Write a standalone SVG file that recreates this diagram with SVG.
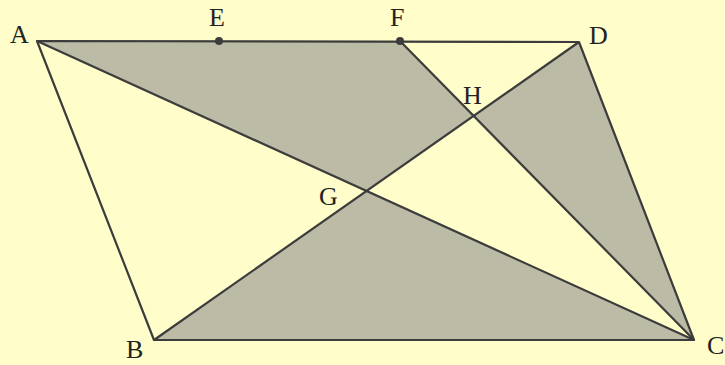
<svg xmlns="http://www.w3.org/2000/svg" width="725" height="365" viewBox="0 0 725 365">
<style>
.sh{fill:#bcbba5;stroke:none}
.ln{stroke:#3c3c3c;stroke-width:2.2;fill:none;stroke-linejoin:round}
.lb{font-family:"Liberation Serif",serif;font-size:26px;fill:#222}
.pt{fill:#3c3c3c}
</style>
<rect width="725" height="365" fill="#fffdc9"/>
<g id="shading">
<polygon class="sh" points="37,41 400,41 473.6,115.9 366.5,191"/>
<polygon class="sh" points="473.6,115.9 579,42 694,340"/>
<polygon class="sh" points="154,340 366.5,191 694,340"/>
</g>
<g id="connectors">
<polygon class="ln" points="37,41 579,42 694,340 154,340"/>
<line class="ln" x1="37" y1="41" x2="694" y2="340"/>
<line class="ln" x1="154" y1="340" x2="579" y2="42"/>
<line class="ln" x1="400" y1="41" x2="694" y2="340"/>
</g>
<g id="A"><text class="lb" x="10" y="43">A</text></g>
<g id="E"><circle class="pt" cx="219" cy="41" r="4"/><text class="lb" x="209" y="26">E</text></g>
<g id="F"><circle class="pt" cx="400" cy="41" r="4"/><text class="lb" x="390" y="26">F</text></g>
<g id="D"><text class="lb" x="589" y="44">D</text></g>
<g id="H"><text class="lb" x="463" y="104">H</text></g>
<g id="G"><text class="lb" x="319" y="205">G</text></g>
<g id="B"><text class="lb" x="126" y="358">B</text></g>
<g id="C"><text class="lb" x="707" y="354">C</text></g>
</svg>
